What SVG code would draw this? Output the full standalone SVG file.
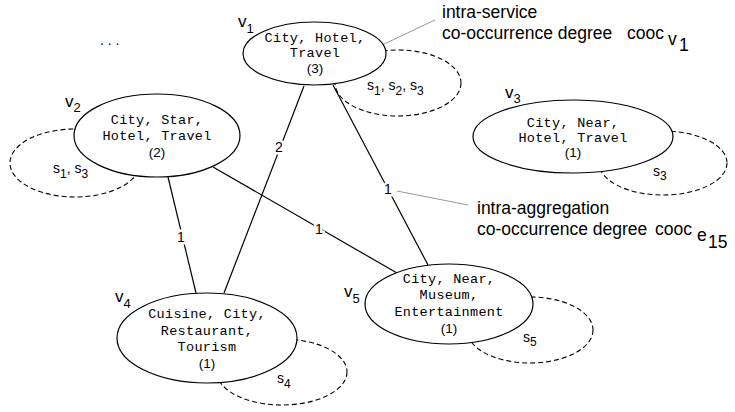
<svg xmlns="http://www.w3.org/2000/svg" width="735" height="412" viewBox="0 0 735 412">
<defs>
<style>
.node{fill:#fff;stroke:#000;stroke-width:1.2}
.loop{fill:none;stroke:#000;stroke-width:1.1;stroke-dasharray:5 3}
.edge{stroke:#000;stroke-width:1.2;fill:none}
.lead{stroke:#999;stroke-width:1;fill:none}
.mono{font-family:"Liberation Mono","Courier New",monospace;font-size:13.5px;letter-spacing:0.3px;text-anchor:middle;fill:#000}
.cnt{font-family:"Liberation Sans",Arial,Helvetica,sans-serif;font-size:13.5px;text-anchor:middle;fill:#000}
.vl{font-family:"Liberation Sans",Arial,Helvetica,sans-serif;font-size:17px;fill:#000}
.sl{font-family:"Liberation Sans",Arial,Helvetica,sans-serif;font-size:14px;fill:#000}
.ann{font-family:"Liberation Sans",Arial,Helvetica,sans-serif;font-size:17.5px;fill:#000}
.el{font-family:"Liberation Sans",Arial,Helvetica,sans-serif;font-size:14px;text-anchor:middle;fill:#000;stroke:#fff;stroke-width:5;paint-order:stroke}
</style>
</defs>
<rect width="735" height="412" fill="#fff"/>

<g id="connectors">
<line class="edge" x1="304" y1="86" x2="224" y2="293"/>
<line class="edge" x1="333" y1="85" x2="428" y2="265"/>
<line class="edge" x1="168" y1="177" x2="196" y2="293"/>
<line class="edge" x1="213" y1="167" x2="397" y2="273"/>
<text class="el" x="279" y="152">2</text>
<text class="el" x="388" y="194">1</text>
<text class="el" x="181" y="242">1</text>
<text class="el" x="319" y="234">1</text>
<line class="lead" x1="327" y1="71" x2="435" y2="20"/>
<line class="lead" x1="397" y1="191" x2="468" y2="205"/>
</g>

<text x="100" y="45" font-family="Liberation Sans, Arial, sans-serif" font-size="14" letter-spacing="3.8" fill="#000">...</text>

<g id="v1">
<ellipse class="loop" cx="398" cy="83" rx="63" ry="33"/>
<ellipse class="node" cx="314.5" cy="53.5" rx="71.5" ry="31.5"/>
<text class="mono" x="315" y="42">City, Hotel,</text>
<text class="mono" x="315" y="57">Travel</text>
<text class="cnt" x="315" y="73">(3)</text>
<text class="vl" x="238" y="27">v<tspan font-size="13" dy="6">1</tspan></text>
<text class="sl" x="367" y="90">s<tspan font-size="12" dy="5">1</tspan><tspan dy="-5">, s</tspan><tspan font-size="12" dy="5">2</tspan><tspan dy="-5">, s</tspan><tspan font-size="12" dy="5">3</tspan></text>
</g>

<g id="v2">
<ellipse class="loop" cx="75" cy="163" rx="65" ry="34"/>
<ellipse class="node" cx="157" cy="135.5" rx="83" ry="41.5"/>
<text class="mono" x="157" y="124">City, Star,</text>
<text class="mono" x="157" y="140">Hotel, Travel</text>
<text class="cnt" x="157" y="157">(2)</text>
<text class="vl" x="65" y="107">v<tspan font-size="13" dy="5">2</tspan></text>
<text class="sl" x="53" y="173">s<tspan font-size="12" dy="5">1</tspan><tspan dy="-5">, s</tspan><tspan font-size="12" dy="5">3</tspan></text>
</g>

<g id="v3">
<ellipse class="loop" cx="663" cy="163" rx="64" ry="32"/>
<ellipse class="node" cx="573" cy="136.5" rx="100" ry="36.5"/>
<text class="mono" x="573" y="127">City, Near,</text>
<text class="mono" x="573" y="142">Hotel, Travel</text>
<text class="cnt" x="573" y="157">(1)</text>
<text class="vl" x="505" y="98">v<tspan font-size="13" dy="5">3</tspan></text>
<text class="sl" x="653" y="176">s<tspan font-size="12" dy="4">3</tspan></text>
</g>

<g id="v4">
<ellipse class="loop" cx="282" cy="372" rx="65" ry="33"/>
<ellipse class="node" cx="207" cy="338" rx="90" ry="45"/>
<text class="mono" x="207" y="318">Cuisine, City,</text>
<text class="mono" x="207" y="335">Restaurant,</text>
<text class="mono" x="207" y="351">Tourism</text>
<text class="cnt" x="207" y="368">(1)</text>
<text class="vl" x="115" y="302">v<tspan font-size="13" dy="6">4</tspan></text>
<text class="sl" x="277" y="383">s<tspan font-size="12" dy="5">4</tspan></text>
</g>

<g id="v5">
<ellipse class="loop" cx="530" cy="330" rx="63" ry="33"/>
<ellipse class="node" cx="449" cy="304" rx="84" ry="40"/>
<text class="mono" x="449" y="283">City, Near,</text>
<text class="mono" x="449" y="299">Museum,</text>
<text class="mono" x="449" y="316">Entertainment</text>
<text class="cnt" x="449" y="333">(1)</text>
<text class="vl" x="344" y="297">v<tspan font-size="13" dy="6">5</tspan></text>
<text class="sl" x="523" y="342">s<tspan font-size="12" dy="4">5</tspan></text>
</g>

<g id="annotations">
<text class="ann" x="442" y="18">intra-service</text>
<text class="ann" x="442" y="39">co-occurrence degree</text>
<text class="ann" x="627" y="39">cooc</text>
<text class="ann" x="668" y="45" font-size="14">v</text>
<text class="ann" x="679" y="51" font-size="12">1</text>
<text class="ann" x="477" y="214">intra-aggregation</text>
<text class="ann" x="477" y="235">co-occurrence degree</text>
<text class="ann" x="655" y="235">cooc</text>
<text class="ann" x="697" y="241" font-size="14">e</text>
<text class="ann" x="708" y="248" font-size="13">15</text>
</g>
</svg>
